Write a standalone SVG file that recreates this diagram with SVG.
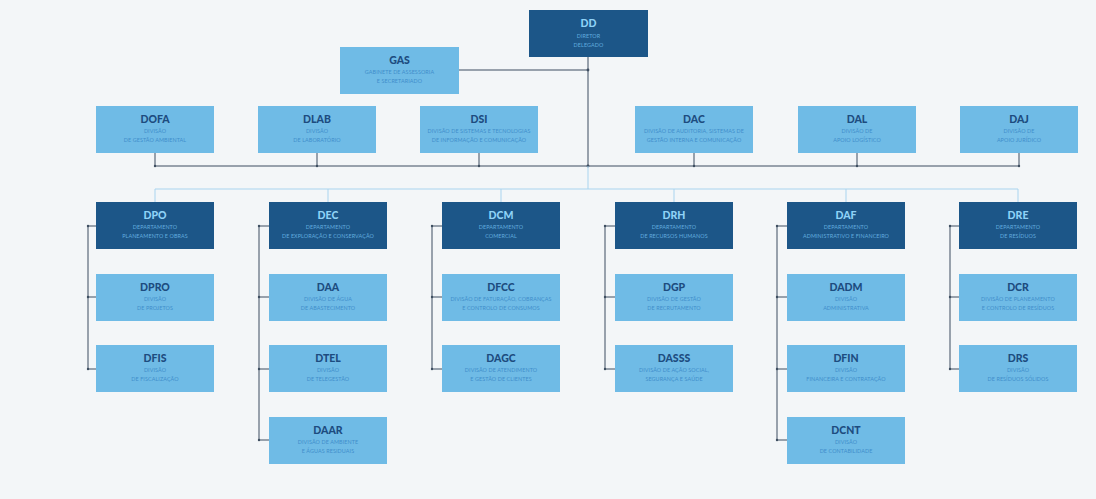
<svg xmlns="http://www.w3.org/2000/svg" width="1096" height="499" viewBox="0 0 1096 499">
  <defs>
    <style>
      .dark { fill: #1c5688; }
      .light { fill: #6fbbe6; }
      .t { font-family: "Lato", "Open Sans", "Liberation Sans", sans-serif; font-weight: 900; font-size: 10.5px; text-anchor: middle; }
      .s { font-family: "Lato", "Open Sans", "Liberation Sans", sans-serif; font-size: 5.4px; text-anchor: middle; letter-spacing: 0.1px; }
      .dark-t { fill: #8fd2f7; }
      .dark-s { fill: #62acdf; }
      .light-t { fill: #1d4c7f; }
      .light-s { fill: #3f8ecb; }
      .ln { stroke: #3d4d60; stroke-width: 1; fill: none; }
      .faint { stroke: #a9d4ef; stroke-width: 1; fill: none; }
      .dot { fill: #3d4d60; }
    </style>
  </defs>

  <rect width="1096" height="499" fill="#f3f6f8"/>

  <!-- connectors -->
  <g id="connectors">
    <!-- director to staff office and divisions -->
    <path class="ln" d="M588 57 V166 M459 70 H588 M155 166 H1019"/>
    <path class="ln" d="M155 153 V166 M317 153 V166 M479 153 V166 M694 153 V166 M857 153 V166 M1019 153 V166"/>
    <circle class="dot" cx="588" cy="70" r="1.4"/>
    <circle class="dot" cx="588" cy="166" r="1.4"/>
    <circle class="dot" cx="155" cy="166" r="1.2"/>
    <circle class="dot" cx="317" cy="166" r="1.2"/>
    <circle class="dot" cx="479" cy="166" r="1.2"/>
    <circle class="dot" cx="694" cy="166" r="1.2"/>
    <circle class="dot" cx="857" cy="166" r="1.2"/>
    <circle class="dot" cx="1019" cy="166" r="1.2"/>
    <!-- departments bus -->
    <path class="faint" d="M588 166 V189 M155 189 H1018 M155 189 V202 M328 189 V202 M501 189 V202 M674 189 V202 M846 189 V202 M1018 189 V202"/>
    <!-- department column spines -->
    <path class="ln" d="M88 226 V369 M88 226 H96 M88 297 H96 M88 369 H96"/>
    <path class="ln" d="M259 226 V440 M259 226 H269 M259 297 H269 M259 369 H269 M259 440 H269"/>
    <path class="ln" d="M432 226 V369 M432 226 H442 M432 297 H442 M432 369 H442"/>
    <path class="ln" d="M605 226 V369 M605 226 H615 M605 297 H615 M605 369 H615"/>
    <path class="ln" d="M777 226 V440 M777 226 H787 M777 297 H787 M777 369 H787 M777 440 H787"/>
    <path class="ln" d="M950 226 V369 M950 226 H959 M950 297 H959 M950 369 H959"/>
    <g class="dot">
      <circle cx="88" cy="226" r="1.2"/><circle cx="88" cy="297" r="1.2"/><circle cx="88" cy="369" r="1.2"/>
      <circle cx="259" cy="226" r="1.2"/><circle cx="259" cy="297" r="1.2"/><circle cx="259" cy="369" r="1.2"/><circle cx="259" cy="440" r="1.2"/>
      <circle cx="432" cy="226" r="1.2"/><circle cx="432" cy="297" r="1.2"/><circle cx="432" cy="369" r="1.2"/>
      <circle cx="605" cy="226" r="1.2"/><circle cx="605" cy="297" r="1.2"/><circle cx="605" cy="369" r="1.2"/>
      <circle cx="777" cy="226" r="1.2"/><circle cx="777" cy="297" r="1.2"/><circle cx="777" cy="369" r="1.2"/><circle cx="777" cy="440" r="1.2"/>
      <circle cx="950" cy="226" r="1.2"/><circle cx="950" cy="297" r="1.2"/><circle cx="950" cy="369" r="1.2"/>
    </g>
  </g>

  <!-- top level -->
  <g id="DD">
    <rect class="dark" x="529" y="10" width="119" height="47"/>
    <text class="t dark-t" x="588.5" y="27">DD</text>
    <text class="s dark-s" x="588.5" y="38">DIRETOR</text>
    <text class="s dark-s" x="588.5" y="47">DELEGADO</text>
  </g>
  <g id="GAS">
    <rect class="light" x="340" y="47" width="119" height="47"/>
    <text class="t light-t" x="399.5" y="64">GAS</text>
    <text class="s light-s" x="399.5" y="74">GABINETE DE ASSESSORIA</text>
    <text class="s light-s" x="399.5" y="83">E SECRETARIADO</text>
  </g>

  <!-- staff divisions -->
  <g id="DOFA">
    <rect class="light" x="96" y="106" width="118" height="47"/>
    <text class="t light-t" x="155" y="123">DOFA</text>
    <text class="s light-s" x="155" y="133">DIVISÃO</text>
    <text class="s light-s" x="155" y="142">DE GESTÃO AMBIENTAL</text>
  </g>
  <g id="DLAB">
    <rect class="light" x="258" y="106" width="118" height="47"/>
    <text class="t light-t" x="317" y="123">DLAB</text>
    <text class="s light-s" x="317" y="133">DIVISÃO</text>
    <text class="s light-s" x="317" y="142">DE LABORATÓRIO</text>
  </g>
  <g id="DSI">
    <rect class="light" x="420" y="106" width="118" height="47"/>
    <text class="t light-t" x="479" y="123">DSI</text>
    <text class="s light-s" x="479" y="133">DIVISÃO DE SISTEMAS E TECNOLOGIAS</text>
    <text class="s light-s" x="479" y="142">DE INFORMAÇÃO E COMUNICAÇÃO</text>
  </g>
  <g id="DAC">
    <rect class="light" x="635" y="106" width="118" height="47"/>
    <text class="t light-t" x="694" y="123">DAC</text>
    <text class="s light-s" x="694" y="133">DIVISÃO DE AUDITORIA, SISTEMAS DE</text>
    <text class="s light-s" x="694" y="142">GESTÃO INTERNA E COMUNICAÇÃO</text>
  </g>
  <g id="DAL">
    <rect class="light" x="798" y="106" width="118" height="47"/>
    <text class="t light-t" x="857" y="123">DAL</text>
    <text class="s light-s" x="857" y="133">DIVISÃO DE</text>
    <text class="s light-s" x="857" y="142">APOIO LOGÍSTICO</text>
  </g>
  <g id="DAJ">
    <rect class="light" x="960" y="106" width="118" height="47"/>
    <text class="t light-t" x="1019" y="123">DAJ</text>
    <text class="s light-s" x="1019" y="133">DIVISÃO DE</text>
    <text class="s light-s" x="1019" y="142">APOIO JURÍDICO</text>
  </g>

  <!-- departments -->
  <g id="DPO">
    <rect class="dark" x="96" y="202" width="118" height="47"/>
    <text class="t dark-t" x="155" y="219">DPO</text>
    <text class="s dark-s" x="155" y="229">DEPARTAMENTO</text>
    <text class="s dark-s" x="155" y="238">PLANEAMENTO E OBRAS</text>
  </g>
  <g id="DEC">
    <rect class="dark" x="269" y="202" width="118" height="47"/>
    <text class="t dark-t" x="328" y="219">DEC</text>
    <text class="s dark-s" x="328" y="229">DEPARTAMENTO</text>
    <text class="s dark-s" x="328" y="238">DE EXPLORAÇÃO E CONSERVAÇÃO</text>
  </g>
  <g id="DCM">
    <rect class="dark" x="442" y="202" width="118" height="47"/>
    <text class="t dark-t" x="501" y="219">DCM</text>
    <text class="s dark-s" x="501" y="229">DEPARTAMENTO</text>
    <text class="s dark-s" x="501" y="238">COMERCIAL</text>
  </g>
  <g id="DRH">
    <rect class="dark" x="615" y="202" width="118" height="47"/>
    <text class="t dark-t" x="674" y="219">DRH</text>
    <text class="s dark-s" x="674" y="229">DEPARTAMENTO</text>
    <text class="s dark-s" x="674" y="238">DE RECURSOS HUMANOS</text>
  </g>
  <g id="DAF">
    <rect class="dark" x="787" y="202" width="118" height="47"/>
    <text class="t dark-t" x="846" y="219">DAF</text>
    <text class="s dark-s" x="846" y="229">DEPARTAMENTO</text>
    <text class="s dark-s" x="846" y="238">ADMINISTRATIVO E FINANCEIRO</text>
  </g>
  <g id="DRE">
    <rect class="dark" x="959" y="202" width="118" height="47"/>
    <text class="t dark-t" x="1018" y="219">DRE</text>
    <text class="s dark-s" x="1018" y="229">DEPARTAMENTO</text>
    <text class="s dark-s" x="1018" y="238">DE RESÍDUOS</text>
  </g>

  <!-- divisions under DPO -->
  <g id="DPRO">
    <rect class="light" x="96" y="274" width="118" height="47"/>
    <text class="t light-t" x="155" y="291">DPRO</text>
    <text class="s light-s" x="155" y="301">DIVISÃO</text>
    <text class="s light-s" x="155" y="310">DE PROJETOS</text>
  </g>
  <g id="DFIS">
    <rect class="light" x="96" y="345" width="118" height="47"/>
    <text class="t light-t" x="155" y="362">DFIS</text>
    <text class="s light-s" x="155" y="372">DIVISÃO</text>
    <text class="s light-s" x="155" y="381">DE FISCALIZAÇÃO</text>
  </g>

  <!-- divisions under DEC -->
  <g id="DAA">
    <rect class="light" x="269" y="274" width="118" height="47"/>
    <text class="t light-t" x="328" y="291">DAA</text>
    <text class="s light-s" x="328" y="301">DIVISÃO DE ÁGUA</text>
    <text class="s light-s" x="328" y="310">DE ABASTECIMENTO</text>
  </g>
  <g id="DTEL">
    <rect class="light" x="269" y="345" width="118" height="47"/>
    <text class="t light-t" x="328" y="362">DTEL</text>
    <text class="s light-s" x="328" y="372">DIVISÃO</text>
    <text class="s light-s" x="328" y="381">DE TELEGESTÃO</text>
  </g>
  <g id="DAAR">
    <rect class="light" x="269" y="417" width="118" height="47"/>
    <text class="t light-t" x="328" y="434">DAAR</text>
    <text class="s light-s" x="328" y="444">DIVISÃO DE AMBIENTE</text>
    <text class="s light-s" x="328" y="453">E ÁGUAS RESIDUAIS</text>
  </g>

  <!-- divisions under DCM -->
  <g id="DFCC">
    <rect class="light" x="442" y="274" width="118" height="47"/>
    <text class="t light-t" x="501" y="291">DFCC</text>
    <text class="s light-s" x="501" y="301">DIVISÃO DE FATURAÇÃO, COBRANÇAS</text>
    <text class="s light-s" x="501" y="310">E CONTROLO DE CONSUMOS</text>
  </g>
  <g id="DAGC">
    <rect class="light" x="442" y="345" width="118" height="47"/>
    <text class="t light-t" x="501" y="362">DAGC</text>
    <text class="s light-s" x="501" y="372">DIVISÃO DE ATENDIMENTO</text>
    <text class="s light-s" x="501" y="381">E GESTÃO DE CLIENTES</text>
  </g>

  <!-- divisions under DRH -->
  <g id="DGP">
    <rect class="light" x="615" y="274" width="118" height="47"/>
    <text class="t light-t" x="674" y="291">DGP</text>
    <text class="s light-s" x="674" y="301">DIVISÃO DE GESTÃO</text>
    <text class="s light-s" x="674" y="310">DE RECRUTAMENTO</text>
  </g>
  <g id="DASSS">
    <rect class="light" x="615" y="345" width="118" height="47"/>
    <text class="t light-t" x="674" y="362">DASSS</text>
    <text class="s light-s" x="674" y="372">DIVISÃO DE AÇÃO SOCIAL,</text>
    <text class="s light-s" x="674" y="381">SEGURANÇA E SAÚDE</text>
  </g>

  <!-- divisions under DAF -->
  <g id="DADM">
    <rect class="light" x="787" y="274" width="118" height="47"/>
    <text class="t light-t" x="846" y="291">DADM</text>
    <text class="s light-s" x="846" y="301">DIVISÃO</text>
    <text class="s light-s" x="846" y="310">ADMINISTRATIVA</text>
  </g>
  <g id="DFIN">
    <rect class="light" x="787" y="345" width="118" height="47"/>
    <text class="t light-t" x="846" y="362">DFIN</text>
    <text class="s light-s" x="846" y="372">DIVISÃO</text>
    <text class="s light-s" x="846" y="381">FINANCEIRA E CONTRATAÇÃO</text>
  </g>
  <g id="DCNT">
    <rect class="light" x="787" y="417" width="118" height="47"/>
    <text class="t light-t" x="846" y="434">DCNT</text>
    <text class="s light-s" x="846" y="444">DIVISÃO</text>
    <text class="s light-s" x="846" y="453">DE CONTABILIDADE</text>
  </g>

  <!-- divisions under DRE -->
  <g id="DCR">
    <rect class="light" x="959" y="274" width="118" height="47"/>
    <text class="t light-t" x="1018" y="291">DCR</text>
    <text class="s light-s" x="1018" y="301">DIVISÃO DE PLANEAMENTO</text>
    <text class="s light-s" x="1018" y="310">E CONTROLO DE RESÍDUOS</text>
  </g>
  <g id="DRS">
    <rect class="light" x="959" y="345" width="118" height="47"/>
    <text class="t light-t" x="1018" y="362">DRS</text>
    <text class="s light-s" x="1018" y="372">DIVISÃO</text>
    <text class="s light-s" x="1018" y="381">DE RESÍDUOS SÓLIDOS</text>
  </g>
</svg>
